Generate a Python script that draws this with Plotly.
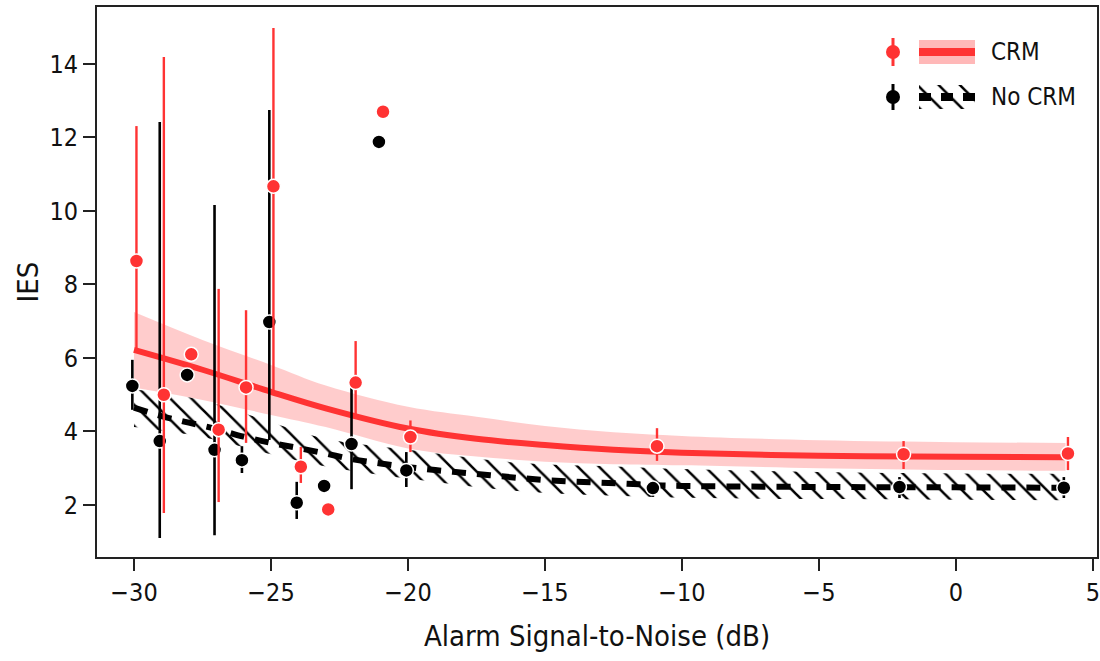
import plotly.graph_objects as go

# ---------------- data ----------------
snr = [-30, -29, -28, -27, -26, -25, -24, -23, -22, -21, -20, -11, -2, 4]

crm_ies = [8.64, 5.0, 6.1, 4.05, 5.2, 10.67, 3.04, 1.88, 5.33, 12.7, 3.85, 3.6, 3.38, 3.4]
crm_hi = [12.31, 14.19, None, 7.88, 7.3, 14.98, 3.58, None, 6.46, None, 4.3, 4.09, 3.74, 3.85]
crm_lo = [6.25, 1.78, None, 2.08, 3.69, 5.05, 2.6, None, 4.45, None, 3.44, 3.2, 2.98, 2.95]

nocrm_ies = [5.24, 3.74, 5.54, 3.5, 3.22, 6.98, 2.06, 2.52, 3.66, 11.88, 2.94, 2.46, 2.49, 2.47]
nocrm_hi = [5.95, 12.42, None, 10.16, 3.6, 12.75, 2.63, None, 5.48, None, 3.44, 2.63, 2.76, 2.76]
nocrm_lo = [4.59, 1.1, None, 1.18, 2.87, 3.77, 1.62, None, 2.43, None, 2.49, 2.22, 2.19, 2.19]

# fitted curves
crm_fit_x = [-30, -27.5, -25, -23, -20, -17.5, -15, -12.5, -10, -5, 0, 4]
crm_fit_y = [6.22, 5.68, 5.08, 4.63, 4.08, 3.80, 3.63, 3.50, 3.42, 3.34, 3.31, 3.30]
crm_fit_hi = [7.25, 6.49, 5.81, 5.25, 4.67, 4.40, 4.15, 3.98, 3.88, 3.76, 3.71, 3.69]
crm_fit_lo = [5.20, 4.86, 4.45, 4.12, 3.54, 3.32, 3.18, 3.11, 3.08, 3.00, 2.95, 2.93]

nocrm_fit_x = [-30, -29, -28, -27, -26, -25, -24, -23, -22, -21, -20, -19, -18, -17, -16,
               -15, -14, -13, -12, -11, -10, -5, 0, 4]
nocrm_fit_y = [4.65, 4.42, 4.24, 4.07, 3.86, 3.69, 3.55, 3.40, 3.24, 3.13, 3.03, 2.95, 2.88,
               2.81, 2.74, 2.68, 2.64, 2.61, 2.58, 2.54, 2.52, 2.49, 2.48, 2.47]
nocrm_band_x = [-30, -27.5, -25, -23, -20, -16, -12.5, -10, -5, 0, 4]
nocrm_band_hi = [5.15, 4.85, 4.25, 3.80, 3.50, 3.15, 3.05, 2.98, 2.90, 2.86, 2.85]
nocrm_band_lo = [4.12, 3.85, 3.38, 3.05, 2.72, 2.38, 2.25, 2.20, 2.16, 2.14, 2.13]

legend_labels = ["CRM", "No CRM"]

RED = "#ff3333"
PINK = "rgba(255,51,51,0.25)"
BLK = "#000000"
FONT = "DejaVu Sans Condensed, Liberation Sans Narrow, Arial Narrow, sans-serif"

DODGE_BLK = -0.06
DODGE_RED = 0.09

HATCH = dict(shape="\\", fgcolor="#000000", fgopacity=1, bgcolor="rgba(255,255,255,0)",
             size=15, solidity=0.17)


def err(vals, hi, lo):
    plus = [(h - v) if h is not None else 0 for v, h in zip(vals, hi)]
    minus = [(v - l) if l is not None else 0 for v, l in zip(vals, lo)]
    return plus, minus


fig = go.Figure()

# CRM confidence band
fig.add_trace(go.Scatter(x=crm_fit_x, y=crm_fit_hi, mode="lines", line=dict(width=0, shape="spline"),
                         showlegend=False, hoverinfo="skip"))
fig.add_trace(go.Scatter(x=crm_fit_x, y=crm_fit_lo, mode="lines", line=dict(width=0, shape="spline"),
                         fill="tonexty", fillcolor=PINK, showlegend=False, hoverinfo="skip"))

# No-CRM hatched band
fig.add_trace(go.Scatter(x=nocrm_band_x, y=nocrm_band_hi, mode="lines", line=dict(width=0, shape="spline"),
                         showlegend=False, hoverinfo="skip"))
fig.add_trace(go.Scatter(x=nocrm_band_x, y=nocrm_band_lo, mode="lines", line=dict(width=0, shape="spline"),
                         fill="tonexty", fillcolor="rgba(0,0,0,0)", fillpattern=HATCH,
                         showlegend=False, hoverinfo="skip"))

# fitted lines
fig.add_trace(go.Scatter(x=crm_fit_x, y=crm_fit_y, mode="lines",
                         line=dict(color=RED, width=6, shape="spline"), showlegend=False))
fig.add_trace(go.Scatter(x=nocrm_fit_x, y=nocrm_fit_y, mode="lines",
                         line=dict(color=BLK, width=6, dash="14px,11px", shape="spline"), showlegend=False))

# points with error bars
bp, bm = err(nocrm_ies, nocrm_hi, nocrm_lo)
fig.add_trace(go.Scatter(x=[s + DODGE_BLK for s in snr], y=nocrm_ies, mode="markers",
                         marker=dict(color=BLK, size=14, line=dict(color="white", width=1.5)),
                         error_y=dict(type="data", array=bp, arrayminus=bm, color=BLK, thickness=2.6, width=0),
                         showlegend=False))
rp, rm = err(crm_ies, crm_hi, crm_lo)
fig.add_trace(go.Scatter(x=[s + DODGE_RED for s in snr], y=crm_ies, mode="markers",
                         marker=dict(color=RED, size=14, line=dict(color="white", width=1.5)),
                         error_y=dict(type="data", array=rp, arrayminus=rm, color=RED, thickness=2.4, width=0),
                         showlegend=False))

# ---------------- custom legend on an overlay axis in pixel units ----------------
LX = dict(xaxis="x2", yaxis="y2", showlegend=False, hoverinfo="skip")
rows = [52, 97]
# CRM legend row
fig.add_trace(go.Scatter(x=[919, 975, 975, 919, 919], y=[40, 40, 64, 64, 40], mode="lines",
                         fill="toself", fillcolor="rgba(255,51,51,0.35)", line=dict(width=0), **LX))
fig.add_trace(go.Scatter(x=[919, 975], y=[rows[0], rows[0]], mode="lines",
                         line=dict(color=RED, width=8), **LX))
fig.add_trace(go.Scatter(x=[893, 893], y=[38, 66], mode="lines", line=dict(color=RED, width=3), **LX))
fig.add_trace(go.Scatter(x=[893], y=[rows[0]], mode="markers", marker=dict(color=RED, size=14), **LX))
# No CRM legend row
fig.add_trace(go.Scatter(x=[919, 975, 975, 919, 919], y=[85, 85, 109, 109, 85], mode="lines",
                         fill="toself", fillcolor="rgba(0,0,0,0)", line=dict(width=0),
                         fillpattern=HATCH, **LX))
fig.add_trace(go.Scatter(x=[919, 975], y=[rows[1], rows[1]], mode="lines",
                         line=dict(color=BLK, width=8, dash="12px,10px"), **LX))
fig.add_trace(go.Scatter(x=[893, 893], y=[84, 110], mode="lines", line=dict(color=BLK, width=3), **LX))
fig.add_trace(go.Scatter(x=[893], y=[rows[1]], mode="markers", marker=dict(color=BLK, size=14), **LX))

for lab, ry in zip(legend_labels, rows):
    fig.add_annotation(x=989, y=ry, xref="x2", yref="y2", text=lab, showarrow=False,
                       xanchor="left", yanchor="middle", font=dict(family=FONT, size=24, color="#111"))

fig.update_layout(
    width=1100, height=661,
    margin=dict(l=97, r=3, t=7, b=104),
    paper_bgcolor="white", plot_bgcolor="white",
    font=dict(family=FONT, color="#111"),
    showlegend=False,
    xaxis=dict(range=[-31.35, 5.15], tickvals=[-30, -25, -20, -15, -10, -5, 0, 5],
               ticktext=["\u221230", "\u221225", "\u221220", "\u221215", "\u221210", "\u22125", "0", "5"],
               ticks="outside", ticklen=12, tickwidth=1.5, tickcolor="#222",
               showline=True, linecolor="#222", linewidth=2, mirror=True,
               showgrid=False, zeroline=False, automargin=False, ticklabeloverflow="allow",
               tickfont=dict(family=FONT, size=25, color="#111"),
               title=dict(text="Alarm Signal-to-Noise (dB)", font=dict(family=FONT, size=29, color="#111"),
                          standoff=20)),
    yaxis=dict(range=[0.585, 15.55], tickvals=[2, 4, 6, 8, 10, 12, 14],
               ticks="outside", ticklen=12, tickwidth=1.5, tickcolor="#222",
               showline=True, linecolor="#222", linewidth=2, mirror=True,
               showgrid=False, zeroline=False, automargin=False,
               tickfont=dict(family=FONT, size=25, color="#111"),
               title=dict(text="IES", font=dict(family=FONT, size=29, color="#111"), standoff=2)),
    xaxis2=dict(overlaying="x", range=[97, 1097], visible=False, fixedrange=True),
    yaxis2=dict(overlaying="y", range=[557, 7], visible=False, fixedrange=True),
)

fig.write_html("out.html", config={"displayModeBar": False},
               post_script="document.body.style.margin='0px';")
